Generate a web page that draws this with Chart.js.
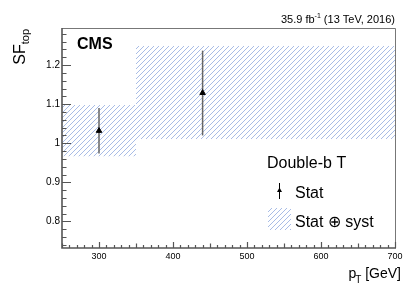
<!DOCTYPE html>
<html>
<head>
<meta charset="utf-8">
<script src="https://cdn.jsdelivr.net/npm/chart.js@4.4.1/dist/chart.umd.min.js"></script>
<style>
  body { margin: 0; background: #fff; }
  #sfChart { display: block; }
</style>
</head>
<body>
<canvas id="sfChart" width="407" height="293"></canvas>
<script>
// Double-b T scale factor vs pT
const binEdges = [250, 350, 700];
const binCenters = [300, 440];
const sfValues = [1.032, 1.129];
const statUp = [1.090, 1.237];
const statDown = [0.974, 1.020];
const totalUp = [1.098, 1.249];
const totalDown = [0.967, 1.011];

const xTicks = [300, 400, 500, 600, 700];
const yTicks = [0.8, 0.9, 1, 1.1, 1.2];
const yTickLabels = ['0.8', '0.9', '1', '1.1', '1.2'];

const hatchColor = 'rgb(168,188,230)';
const axisColor = '#555';
const FONT = '"Liberation Sans", Arial, Helvetica, sans-serif';

// hatch pattern like ROOT fill style 3004
function makeHatch() {
    const c = document.createElement('canvas');
    c.width = 5; c.height = 5;
    const g = c.getContext('2d');
    g.strokeStyle = hatchColor;
    g.lineWidth = 1;
    g.beginPath();
    g.moveTo(-1, 6); g.lineTo(6, -1);
    g.moveTo(-1, 1); g.lineTo(1, -1);
    g.moveTo(4, 6); g.lineTo(6, 4);
    g.stroke();
    return document.getElementById('sfChart').getContext('2d').createPattern(c, 'repeat');
}
const hatch = makeHatch();

const datasets = [];
// bands: top line filled down to bottom line
for (let i = 0; i < binCenters.length; i++) {
    const topIdx = datasets.length;
    datasets.push({
        data: [{x: binEdges[i], y: totalUp[i]}, {x: binEdges[i + 1], y: totalUp[i]}],
        showLine: true, borderWidth: 0, pointRadius: 0, order: 2,
        backgroundColor: hatch, fill: topIdx + 1
    });
    datasets.push({
        data: [{x: binEdges[i], y: totalDown[i]}, {x: binEdges[i + 1], y: totalDown[i]}],
        showLine: true, borderWidth: 0, pointRadius: 0, fill: false, order: 2
    });
}
// stat error bars
for (let i = 0; i < binCenters.length; i++) {
    datasets.push({
        data: [{x: binCenters[i], y: statDown[i]}, {x: binCenters[i], y: statUp[i]}],
        showLine: true, borderColor: '#666', borderWidth: 1.5, pointRadius: 0, fill: false, order: 1
    });
}
// central values
datasets.push({
    data: binCenters.map((x, i) => ({x: x, y: sfValues[i]})),
    pointStyle: 'triangle', pointRadius: 3.2, order: 0,
    backgroundColor: '#000', borderColor: '#000', borderWidth: 1, showLine: false
});

const rootAxes = {
    id: 'rootAxes',
    afterDraw(chart) {
        const ctx = chart.ctx;
        const a = chart.chartArea;
        const xs = chart.scales.x, ys = chart.scales.y;
        ctx.save();

        // frame
        ctx.strokeStyle = '#777';
        ctx.lineWidth = 1;
        ctx.beginPath();
        ctx.moveTo(a.left, a.top + 0.5); ctx.lineTo(a.right + 0.5, a.top + 0.5);
        ctx.lineTo(a.right + 0.5, a.bottom);
        ctx.stroke();

        ctx.strokeStyle = axisColor;
        ctx.lineWidth = 1.6;
        ctx.beginPath();
        ctx.moveTo(a.left, a.top); ctx.lineTo(a.left, a.bottom); ctx.lineTo(a.right + 1, a.bottom);
        ctx.stroke();

        // x ticks
        ctx.lineWidth = 1.2;
        ctx.beginPath();
        for (let v = 250; v <= 700; v += 10) {
            const px = Math.round(xs.getPixelForValue(v)) + 0.5;
            const len = v % 100 === 0 ? 6 : (v % 50 === 0 ? 4.5 : 3);
            ctx.moveTo(px, a.bottom); ctx.lineTo(px, a.bottom - len);
        }
        // y ticks
        for (let k = 37; k <= 64; k++) {
            const v = k * 0.02;
            if (v < ys.min || v > ys.max) continue;
            const py = Math.round(ys.getPixelForValue(v)) + 0.5;
            const len = k % 5 === 0 ? 9 : 4.5;
            ctx.moveTo(a.left, py); ctx.lineTo(a.left + len, py);
        }
        ctx.stroke();

        // tick labels
        ctx.fillStyle = '#000';
        ctx.font = '9px ' + FONT;
        ctx.textAlign = 'center';
        ctx.textBaseline = 'top';
        xTicks.forEach(v => ctx.fillText(String(v), xs.getPixelForValue(v), a.bottom + 4));
        ctx.font = '10px ' + FONT;
        ctx.textAlign = 'right';
        ctx.textBaseline = 'middle';
        yTicks.forEach((v, i) => ctx.fillText(yTickLabels[i], a.left - 2, ys.getPixelForValue(v)));

        // axis titles
        ctx.textBaseline = 'alphabetic';
        ctx.textAlign = 'right';
        ctx.font = '14px ' + FONT;
        const tw = ctx.measureText(' [GeV]').width;
        ctx.fillText(' [GeV]', 401, 278);
        ctx.font = '10px ' + FONT;
        const tW = ctx.measureText('T').width;
        ctx.fillText('T', 401 - tw, 283);
        ctx.font = '14px ' + FONT;
        ctx.fillText('p', 401 - tw - tW + 1, 278);

        ctx.save();
        ctx.translate(25, 29);
        ctx.rotate(-Math.PI / 2);
        ctx.textAlign = 'right';
        ctx.font = '11px ' + FONT;
        ctx.fillText('top', 0, 4);
        const topW = ctx.measureText('top').width;
        ctx.font = '16px ' + FONT;
        ctx.fillText('SF', -topW, 0);
        ctx.restore();

        // CMS label
        ctx.textAlign = 'left';
        ctx.font = 'bold 16px ' + FONT;
        ctx.fillText('CMS', 77, 49);

        // lumi label
        ctx.textAlign = 'right';
        ctx.font = '11px ' + FONT;
        const rest = ' (13 TeV, 2016)';
        const rw = ctx.measureText(rest).width;
        ctx.fillText(rest, 395, 23);
        ctx.font = '7px ' + FONT;
        const sw = ctx.measureText('-1').width;
        ctx.fillText('-1', 395 - rw, 18);
        ctx.font = '11px ' + FONT;
        ctx.fillText('35.9 fb', 395 - rw - sw, 23);

        // legend
        ctx.textAlign = 'left';
        ctx.font = '16px ' + FONT;
        ctx.fillText('Double-b T', 267, 168);
        ctx.fillText('Stat', 295, 198);
        ctx.fillText('Stat \u2295 syst', 295, 227);

        ctx.strokeStyle = '#000';
        ctx.lineWidth = 1;
        ctx.beginPath();
        ctx.moveTo(279.5, 183); ctx.lineTo(279.5, 199);
        ctx.stroke();
        ctx.fillStyle = '#000';
        ctx.beginPath();
        ctx.moveTo(279.5, 187.5); ctx.lineTo(282, 192); ctx.lineTo(277, 192);
        ctx.closePath();
        ctx.fill();

        ctx.fillStyle = hatch;
        ctx.fillRect(268, 208, 23, 22);

        ctx.restore();
    }
};

new Chart(document.getElementById('sfChart'), {
    type: 'scatter',
    data: { datasets: datasets },
    options: {
        responsive: false,
        animation: false,
        devicePixelRatio: 1,
        layout: { padding: { left: 62, right: 12, top: 28, bottom: 45 } },
        plugins: { legend: { display: false }, tooltip: { enabled: false } },
        scales: {
            x: { type: 'linear', min: 250, max: 700, display: false },
            y: { type: 'linear', min: 0.732, max: 1.295, display: false }
        }
    },
    plugins: [rootAxes]
});
</script>
</body>
</html>
